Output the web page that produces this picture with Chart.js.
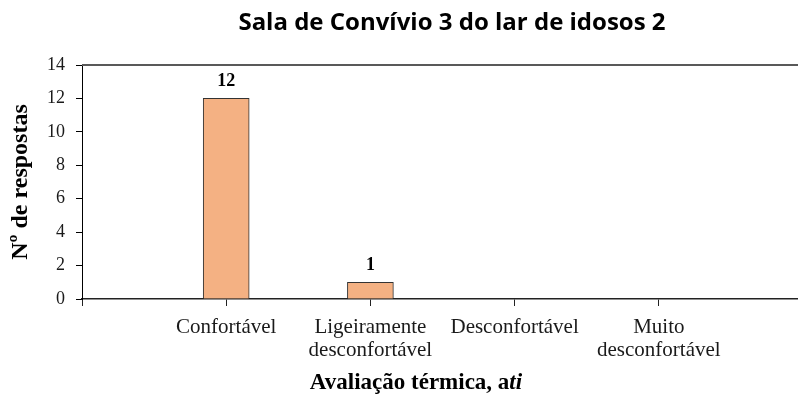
<!DOCTYPE html>
<html>
<head>
<meta charset="utf-8">
<script src="https://cdn.jsdelivr.net/npm/chart.js@4.4.0/dist/chart.umd.min.js"></script>
<style>
  html, body { margin: 0; padding: 0; background: #fff; overflow: hidden; }
  #wrap { position: relative; width: 830px; height: 398px; }
</style>
</head>
<body>
<div id="wrap"><canvas id="chartSala"></canvas></div>
<script>
var titulo = "Sala de Convívio 3 do lar de idosos 2";
var tituloX = "Avaliação térmica, a";
var tituloXItal = "ti";
var tituloY = "Nº de respostas";
var categorias = [["Confortável"], ["Ligeiramente", "desconfortável"], ["Desconfortável"], ["Muito", "desconfortável"]];
var respostas = [12, 1, 0, 0];
var yMin = 0, yMax = 14, yPasso = 2;

// empty slot at each end so the categories sit where the original puts them
var labels = [""].concat(categorias, [""]);
var valores = [null].concat(respostas, [null]);

var serif = "'Liberation Serif', 'Times New Roman', serif";

var extras = {
  id: 'extras',
  afterDraw: function (chart) {
    var ctx = chart.ctx, area = chart.chartArea;
    ctx.save();

    // top border of the plot
    ctx.strokeStyle = '#595959';
    ctx.lineWidth = 2;
    ctx.beginPath();
    ctx.moveTo(area.left, area.top);
    ctx.lineTo(area.right, area.top);
    ctx.stroke();

    // value labels over the bars
    var meta = chart.getDatasetMeta(0);
    ctx.fillStyle = '#000';
    ctx.textAlign = 'center';
    ctx.textBaseline = 'middle';
    ctx.font = "bold 18px " + serif;
    meta.data.forEach(function (bar, i) {
      var v = chart.data.datasets[0].data[i];
      if (v) ctx.fillText(String(v), bar.x, bar.y - 17);
    });

    // chart title
    ctx.font = "bold 24px 'Open Sans'";
    ctx.fillText(titulo, 452, 23);

    // x axis title, last part in italic
    ctx.textAlign = 'left';
    ctx.textBaseline = 'alphabetic';
    ctx.font = "bold 23px " + serif;
    var w1 = ctx.measureText(tituloX).width;
    ctx.font = "bold italic 23px " + serif;
    var w2 = ctx.measureText(tituloXItal).width;
    var x0 = 416 - (w1 + w2) / 2;
    ctx.font = "bold 23px " + serif;
    ctx.fillText(tituloX, x0, 389);
    ctx.font = "bold italic 23px " + serif;
    ctx.fillText(tituloXItal, x0 + w1, 389);

    ctx.restore();
  }
};

var ctxSala = document.getElementById("chartSala");

var chartSala = new Chart(ctxSala, {
  type: 'bar',
  data: {
    labels: labels,
    datasets: [{
      label: "Nº de respostas",
      data: valores,
      backgroundColor: '#F4B183',
      borderColor: '#333333',
      borderWidth: 1,
      barThickness: 46
    }]
  },
  options: {
    responsive: true,
    maintainAspectRatio: false,
    animation: false,
    layout: { padding: { top: 65, right: 27, left: 0, bottom: 0 } },
    plugins: {
      legend: { display: false },
      tooltip: { enabled: false }
    },
    scales: {
      x: {
        offset: false,
        afterFit: function (scale) { scale.height = 99; },
        grid: {
          offset: false,
          drawOnChartArea: false,
          drawTicks: true,
          tickLength: 7,
          color: '#222'
        },
        border: { color: '#222', width: 1.5 },
        ticks: {
          autoSkip: false,
          maxRotation: 0,
          padding: 10,
          color: '#1a1a1a',
          font: { family: serif, size: 21, lineHeight: '23px' }
        }
      },
      y: {
        min: yMin,
        max: yMax,
        afterFit: function (scale) { scale.width = 82; },
        grid: {
          drawOnChartArea: false,
          drawTicks: true,
          tickLength: 6,
          color: '#000'
        },
        border: { color: '#000', width: 1 },
        ticks: {
          stepSize: yPasso,
          padding: 11,
          color: '#1a1a1a',
          font: { family: serif, size: 18 }
        },
        title: {
          display: true,
          text: tituloY,
          color: '#000',
          padding: { top: 6, bottom: 0 },
          font: { family: serif, size: 24, weight: 'bold' }
        }
      }
    }
  },
  plugins: [extras]
});
</script>
</body>
</html>
